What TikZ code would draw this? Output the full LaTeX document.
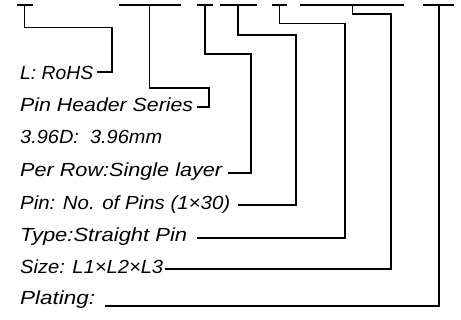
\documentclass[tikz,border=0pt]{standalone}
\usepackage{fontspec}
\setmainfont{Liberation Sans}
\usepackage{graphicx}
\newcommand{\fitw}[2]{\resizebox{#1pt}{\height}{#2}}
\begin{document}
\begin{tikzpicture}[x=1pt,y=-1pt,
  ln/.style={line width=1.4pt},
  lbl/.style={anchor=base west,inner sep=0pt,font=\fontsize{19}{21}\selectfont\itshape}]
\useasboundingbox (0,0) rectangle (461,320);
% top bars
\draw[ln] (17,5) -- (33,5);
\draw[ln] (119,5) -- (181,5);
\draw[ln] (197,5) -- (213,5);
\draw[ln] (220,5) -- (257,5);
\draw[ln] (272,5) -- (287,5);
\draw[ln] (300,5) -- (404,5);
\draw[ln] (423,5) -- (454,5);
\coordinate (b1) at (24.5,5);
\coordinate (b2) at (149.5,5);
\coordinate (b3) at (205,5);
\coordinate (b4) at (238,5);
\coordinate (b5) at (279.5,5);
\coordinate (b6) at (352.5,5);
\coordinate (b7) at (439,5);
% labels
\node[lbl] (t1) at (20,79.5) {\fitw{73}{L: RoHS}};
\node[lbl] (t2) at (20,111.7) {\fitw{173}{Pin Header Series}};
\node[lbl] (t3) at (20,144) {\fitw{142}{3.96D:\ \ 3.96mm}};
\node[lbl] (t4) at (20,176.7) {\fitw{202}{Per Row:Single layer}};
\node[lbl] (t5) at (20,209.3) {\fitw{210}{Pin: No. of Pins (1×30)}};
\node[lbl] (t6) at (20,241.7) {\fitw{167}{Type:Straight Pin}};
\node[lbl] (t7) at (20,274) {\fitw{143}{Size: L1×L2×L3}};
\node[lbl] (t8) at (20,305) {\fitw{75}{Plating:}};
% line ends
\coordinate (e1) at (97,72);
\coordinate (e2) at (197,107);
\coordinate (e4) at (228,173);
\coordinate (e5) at (238,205);
\coordinate (e6) at (197,238);
\coordinate (e7) at (165,269);
\coordinate (e8) at (105,306);
% connectors
\draw[ln] (b1) |- (112,27.5) |- (e1);
\draw[ln] (b2) |- (209,88) |- (e2);
\draw[ln] (b3) |- (251,54) |- (e4);
\draw[ln] (b4) |- (296,35) |- (e5);
\draw[ln] (b5) |- (345,23.5) |- (e6);
\draw[ln] (b6) |- (391,14) |- (e7);
\draw[ln] (b7) |- (e8);
\end{tikzpicture}
\end{document}
